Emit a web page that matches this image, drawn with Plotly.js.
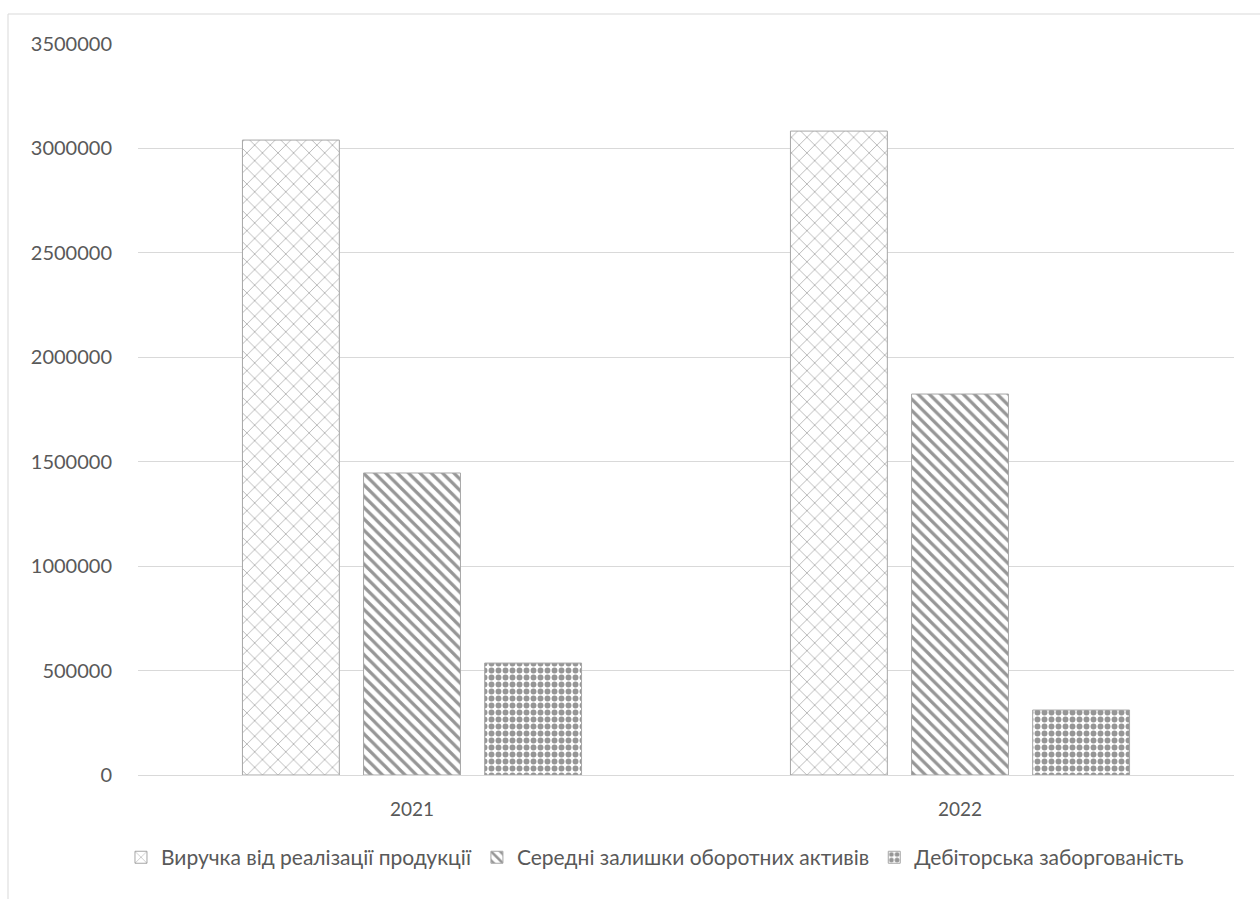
<!DOCTYPE html>
<html><head><meta charset="utf-8">
<script src="https://cdn.plot.ly/plotly-3.0.1.min.js"></script>
<style>html,body{margin:0;padding:0;background:#fff;}#chart{width:1260px;height:899px;}</style>
</head><body><div id="chart"></div>
<script>
const categories = ['2021', '2022'];
const seriesNames = ['Виручка від реалізації продукції', 'Середні залишки оборотних активів', 'Дебіторська заборгованість'];
const revenue = [3040000, 3083000];
const avgCurrentAssets = [1446000, 1824000];
const receivables = [536000, 311000];
const yTicks = [0, 500000, 1000000, 1500000, 2000000, 2500000, 3000000, 3500000];

const gray = '#969696';
const common = {type: 'bar', x: categories, hoverinfo: 'y'};
const traces = [
  Object.assign({}, common, {name: seriesNames[0], y: revenue,
    marker: {color: '#ffffff', line: {color: '#a6a6a6', width: 1},
      pattern: {shape: 'x', fgcolor: '#ababab', bgcolor: '#ffffff', size: 11, solidity: 0.14}}}),
  Object.assign({}, common, {name: seriesNames[1], y: avgCurrentAssets,
    marker: {color: '#ffffff', line: {color: '#a6a6a6', width: 1},
      pattern: {shape: '\\', fgcolor: gray, bgcolor: '#ffffff', size: 8, solidity: 0.4}}}),
  Object.assign({}, common, {name: seriesNames[2], y: receivables,
    marker: {color: '#ffffff', line: {color: '#a6a6a6', width: 1},
      pattern: {shape: '.', fgcolor: gray, bgcolor: '#ffffff', size: 7, solidity: 0.55}}})
];

const fam = 'Lato, "Noto Sans", sans-serif';
const layout = {
  width: 1260, height: 899,
  margin: {l: 138, r: 26, t: 44, b: 124},
  paper_bgcolor: '#ffffff', plot_bgcolor: '#ffffff',
  font: {family: fam, size: 20, color: '#595959'},
  barmode: 'group', bargap: 0.337, bargroupgap: 0.2,
  showlegend: true,
  legend: {orientation: 'h', x: 0.4717, xanchor: 'center', y: -0.113, yanchor: 'middle',
    font: {family: fam, size: 21, color: '#595959'}, itemwidth: 30, traceorder: 'normal'},
  xaxis: {type: 'category', showgrid: false, showline: true, linecolor: '#d9d9d9', linewidth: 1,
    ticks: '', tickfont: {family: fam, size: 19, color: '#595959'}, ticklabelstandoff: 17},
  yaxis: {range: [0, 3500000], tickvals: yTicks, ticktext: yTicks.map(String),
    showgrid: true, gridcolor: '#d9d9d9', gridwidth: 1, zeroline: false, showline: false,
    ticks: '', ticklabelstandoff: 25, tickfont: {family: fam, size: 20, color: '#595959'}},
  shapes: [{type: 'rect', xref: 'paper', yref: 'paper', layer: 'below',
    x0: (8 - 138) / 1096, x1: (1270 - 138) / 1096, y0: (775 - 910) / 731, y1: (775 - 14) / 731,
    line: {color: '#d9d9d9', width: 1}, fillcolor: 'rgba(0,0,0,0)'}]
};
Plotly.newPlot('chart', traces, layout, {displayModeBar: false, staticPlot: true});
</script></body></html>
